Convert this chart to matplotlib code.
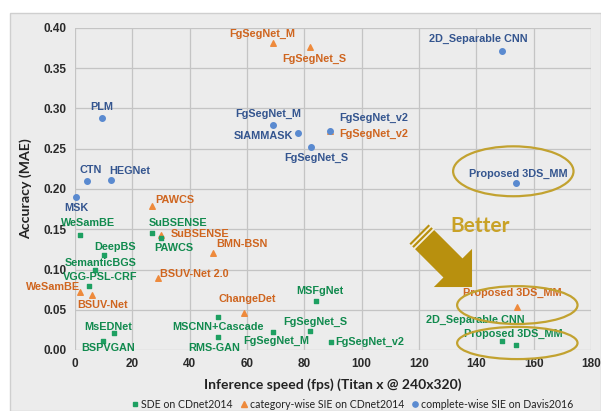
import matplotlib
matplotlib.use("Agg")
import matplotlib.pyplot as plt
from matplotlib.patches import Ellipse, Polygon, Rectangle
from matplotlib.lines import Line2D
from matplotlib.transforms import Affine2D
import numpy as np

W, H = 601, 411

# ---- data -------------------------------------------------------------
# SDE on CDnet2014 (green squares)
sde_names = ["WeSamBE", "SuBSENSE", "PAWCS", "DeepBS", "SemanticBGS", "VGG-PSL-CRF",
             "MsEDNet", "BSPVGAN", "MSCNN+Cascade", "RMS-GAN", "FgSegNet_M",
             "FgSegNet_S", "FgSegNet_v2", "MSFgNet", "2D_Separable CNN", "Proposed 3DS_MM"]
sde_fps = [1.8, 27, 30, 10, 7, 4.8, 13.7, 9.9, 50, 50, 69, 82, 89.3, 84, 149, 154]
sde_mae = [0.143, 0.145, 0.139, 0.118, 0.100, 0.079, 0.021, 0.011, 0.041, 0.016,
           0.022, 0.024, 0.010, 0.061, 0.011, 0.006]

# category-wise SIE on CDnet2014 (orange triangles)
cat_names = ["FgSegNet_M", "FgSegNet_S", "FgSegNet_v2", "PAWCS", "SuBSENSE", "BMN-BSN",
             "BSUV-Net 2.0", "WeSamBE", "BSUV-Net", "ChangeDet", "Proposed 3DS_MM"]
cat_fps = [69, 82, 89, 27, 30, 48.2, 29, 1.8, 6, 59, 154.3]
cat_mae = [0.381, 0.377, 0.272, 0.179, 0.143, 0.120, 0.089, 0.072, 0.068, 0.046, 0.053]

# complete-wise SIE on Davis2016 (blue circles)
dav_names = ["PLM", "CTN", "HEGNet", "MSK", "FgSegNet_M", "SIAMMASK", "FgSegNet_v2",
             "FgSegNet_S", "2D_Separable CNN", "Proposed 3DS_MM"]
dav_fps = [9.4, 4.2, 12.5, 0.4, 69, 77.8, 89, 82.4, 149, 154]
dav_mae = [0.288, 0.210, 0.211, 0.190, 0.280, 0.270, 0.272, 0.252, 0.371, 0.208]

x_ticks = [0, 20, 40, 60, 80, 100, 120, 140, 160, 180]
y_ticks = [0.00, 0.05, 0.10, 0.15, 0.20, 0.25, 0.30, 0.35, 0.40]

# ---- label placement (pixel offsets from each marker, +y is up) -------
sde_off = [(8, 12), (26, 10), (13, -10), (11, 8), (6, 7), (11, 9), (-6, 6), (5, -7),
           (0, -10), (-4, -11), (3, -9), (5, 9), (39, 0), (4, 10), (-27, 21), (-3, 11)]
cat_off = [(-11, 9), (4, -12), (44, -3), (22, 6), (39, 1), (29, 9), (36, 4), (-27, 5),
           (10, -10), (3, 14), (-5, 14)]
dav_off = [(0, 11), (4, 11), (19, 9), (0, -11), (-5, 11), (-35, -3), (44, 13), (5, -11),
           (-24, 12), (2, 9)]

GREEN_M, GREEN_T = "#1EA062", "#118A4E"
ORANGE_M, ORANGE_T = "#EE8A3C", "#CF651F"
BLUE_M, BLUE_T = "#5A8AD0", "#34558F"
GOLD = "#B8900E"

fig = plt.figure(figsize=(W / 100, H / 100), dpi=100, facecolor="white")

# pixel (top-left origin) -> figure transform
px = Affine2D().scale(1 / W, -1 / H).translate(0, 1) + fig.transFigure

# chart area panel
fig.patches.append(Rectangle((10, 13), W - 10, H - 13, transform=px,
                             facecolor="#ececec", edgecolor="#cfcfcf", lw=1.0, zorder=-5))

ax = fig.add_axes([75 / W, 1 - 350 / H, (591 - 75) / W, (350 - 28) / H])
ax.set_facecolor("none")
ax.set_xlim(0, 180)
ax.set_ylim(0, 0.40)
ax.set_xticks(x_ticks)
ax.set_yticks(y_ticks)
ax.set_yticklabels([f"{v:.2f}" for v in y_ticks])
for s in ax.spines.values():
    s.set_visible(False)
ax.grid(True, color="#c4c4c4", lw=0.9)
ax.set_axisbelow(True)
ax.tick_params(length=0, pad=6, labelsize=8.5, labelcolor="#2a2a2a")
for lab in ax.get_xticklabels() + ax.get_yticklabels():
    lab.set_fontweight("bold")
    lab.set_family("Liberation Sans")

ax.set_xlabel("Inference speed (fps) (Titan x @ 240x320)", fontsize=10, fontweight="bold",
              family="Lato", color="#222222", labelpad=6)
ax.set_ylabel("Accuracy (MAE)", fontsize=10.2, fontweight="bold", family="Lato",
              color="#222222", labelpad=8)

ax.scatter(cat_fps, cat_mae, marker="^", s=16, color=ORANGE_M, zorder=3, clip_on=False)
ax.scatter(dav_fps, dav_mae, marker="o", s=16, color=BLUE_M, zorder=4, clip_on=False)
ax.scatter(sde_fps, sde_mae, marker="s", s=12, color=GREEN_M, zorder=4, clip_on=False)


def put_labels(names, xs, ys, offs, color):
    for n, x, y, (dx, dy) in zip(names, xs, ys, offs):
        ax.annotate(n, (x, y), xytext=(dx, dy), textcoords="offset pixels",
                    ha="center", va="center", fontsize=7.8, fontweight="bold",
                    family="Liberation Sans", color=color, zorder=5, annotation_clip=False)


put_labels(cat_names, cat_fps, cat_mae, cat_off, ORANGE_T)
put_labels(dav_names, dav_fps, dav_mae, dav_off, BLUE_T)
put_labels(sde_names, sde_fps, sde_mae, sde_off, GREEN_T)

# highlight rings around the proposed method
for cx, cy, h in [(152.9, 0.222, 0.062), (154.3, 0.0558, 0.047), (154.3, 0.0087, 0.040)]:
    ax.add_patch(Ellipse((cx, cy), 42, h, facecolor="none", edgecolor="#C2A230",
                         lw=1.6, zorder=6, clip_on=False))

# "Better" arrow, drawn in pixel space so it stays at 45 degrees
T = np.array([419.0, 234.0])
d = np.array([1.0, 1.0]) / np.sqrt(2)
n = np.array([1.0, -1.0]) / np.sqrt(2)
L, HL, SW, HW = 75, 27, 13.5, 27
base = T + d * (L - HL)
arrow_pts = [T - n * SW, base - n * SW, base - n * HW, T + d * L,
             base + n * HW, base + n * SW, T + n * SW]
fig.patches.append(Polygon(arrow_pts, closed=True, transform=px, facecolor=GOLD,
                           edgecolor="none", zorder=7))
for k in (3.0, 7.0):
    a, b = T + d * k - n * SW, T + d * k + n * SW
    fig.lines.append(Line2D([a[0], b[0]], [a[1], b[1]], transform=px, color="#f4efe0",
                            lw=1.3, zorder=8))
fig.text(480 / W, 1 - 226 / H, "Better", ha="center", va="center", fontsize=15,
         fontweight="bold", family="Lato", color="#C9A227", zorder=8)

handles = [
    Line2D([], [], ls="none", marker="s", ms=3.2, color=GREEN_M, label="SDE on CDnet2014"),
    Line2D([], [], ls="none", marker="^", ms=3.8, color=ORANGE_M,
           label="category-wise SIE on CDnet2014"),
    Line2D([], [], ls="none", marker="o", ms=3.8, color=BLUE_M,
           label="complete-wise SIE on Davis2016"),
]
leg = fig.legend(handles=handles, loc="center", bbox_to_anchor=(353 / W, 1 - 404 / H),
                 ncol=3, frameon=False, handlelength=0.5, handletextpad=0.3,
                 columnspacing=0.8, borderpad=0, prop={"family": "Lato", "size": 7.6})
for t in leg.get_texts():
    t.set_color("#222222")

fig.savefig("out.png", dpi=100, facecolor="white")
